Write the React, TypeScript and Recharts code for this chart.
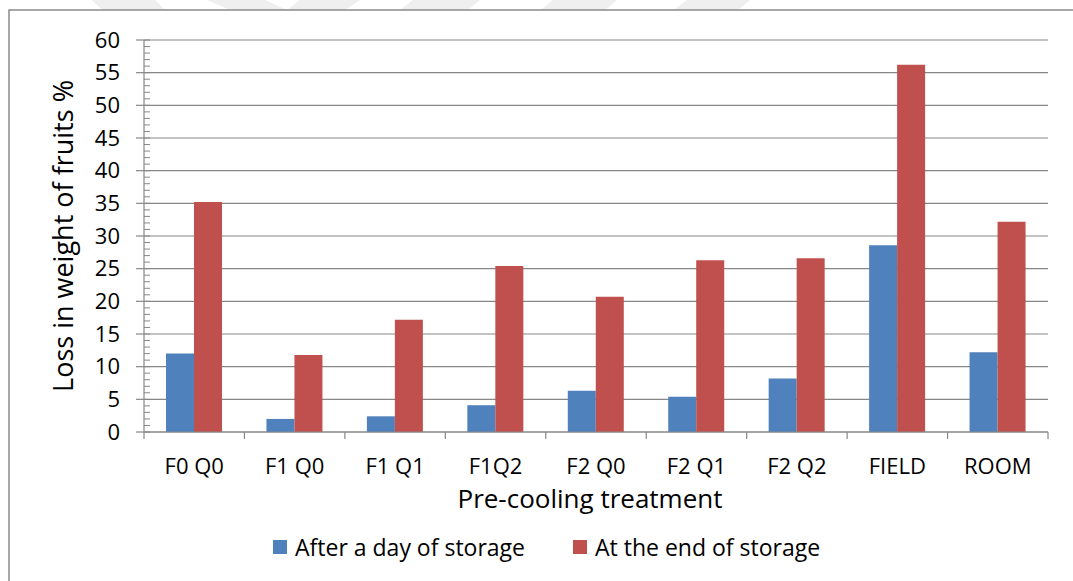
import React from 'react';
import { BarChart, Bar, XAxis, YAxis, CartesianGrid, Legend, Label } from 'recharts';

// Pre-cooling treatments on the category axis
const treatments = ['F0 Q0', 'F1 Q0', 'F1 Q1', 'F1Q2', 'F2 Q0', 'F2 Q1', 'F2 Q2', 'FIELD', 'ROOM'];

// Loss in weight of fruits (%)
const afterOneDay = [12.0, 2.0, 2.4, 4.1, 6.3, 5.4, 8.2, 28.6, 12.2];
const endOfStorage = [35.2, 11.8, 17.2, 25.4, 20.7, 26.3, 26.6, 56.2, 32.2];

const seriesNames = ['After a day of storage', 'At the end of storage'];

const yMajorTicks = [0, 5, 10, 15, 20, 25, 30, 35, 40, 45, 50, 55, 60];
const yMinorTicks = Array.from({ length: 61 }, (_, i) => i);

const rows = treatments.map((name, i) => ({
  name,
  day: afterOneDay[i],
  end: endOfStorage[i],
}));

const FONT = '"Open Sans", "Noto Sans", sans-serif';
const AXIS_GRAY = '#878787';
const BLUE = '#4F81BD';
const RED = '#C0504D';

// Y ticks: minor marks inside every unit, major marks outside with labels every 5
const YTick = (props: any) => {
  const { x, y, payload } = props;
  const v = Number(payload.value);
  const major = v % 5 === 0;
  return (
    <g>
      <line x1={x} x2={x + 6} y1={y} y2={y} stroke={AXIS_GRAY} strokeWidth={1} />
      {major && <line x1={x - 8} x2={x} y1={y} y2={y} stroke={AXIS_GRAY} strokeWidth={1.2} />}
      {major && (
        <text x={x - 24} y={y + 7.5} textAnchor="end" fontSize={22} fontFamily={FONT} fill="#000">
          {v}
        </text>
      )}
    </g>
  );
};

// X ticks: marks on category boundaries, labels centred under each category
const XTick = (props: any) => {
  const { x, y, payload, index, visibleTicksCount, width } = props;
  const half = typeof payload.offset === 'number' && payload.offset > 0 ? payload.offset : width / visibleTicksCount / 2;
  const last = index === visibleTicksCount - 1;
  return (
    <g>
      <line x1={x - half} x2={x - half} y1={y} y2={y + 7} stroke={AXIS_GRAY} strokeWidth={1.2} />
      {last && <line x1={x + half} x2={x + half} y1={y} y2={y + 7} stroke={AXIS_GRAY} strokeWidth={1.2} />}
      <text x={x} y={y + 42} textAnchor="middle" fontSize={22} fontFamily={FONT} fill="#000">
        {payload.value}
      </text>
    </g>
  );
};

const YTitle = (props: any) => {
  const vb = props.viewBox || { x: 0, y: 0, width: 0, height: 0 };
  const cx = vb.x + 73;
  const cy = vb.y + vb.height / 2;
  return (
    <text
      x={cx}
      y={cy}
      transform={`rotate(-90, ${cx}, ${cy})`}
      textAnchor="middle"
      fontSize={27}
      fontFamily={FONT}
      fill="#000"
    >
      Loss in weight of fruits %
    </text>
  );
};

const XTitle = (props: any) => {
  const vb = props.viewBox || { x: 0, y: 0, width: 0, height: 0 };
  return (
    <text
      x={vb.x + vb.width / 2 - 6}
      y={vb.y + 76}
      textAnchor="middle"
      fontSize={26}
      fontFamily={FONT}
      fill="#000"
    >
      Pre-cooling treatment
    </text>
  );
};

const LegendContent = (props: any) => {
  const items = props.payload || [];
  return (
    <div style={{ display: 'flex', alignItems: 'center', fontFamily: FONT, fontSize: 23, color: '#000', whiteSpace: 'nowrap' }}>
      {items.map((entry: any, i: number) => (
        <div key={i} style={{ display: 'flex', alignItems: 'center', marginRight: 48 }}>
          <span style={{ width: 14, height: 14, background: entry.color, display: 'inline-block', marginRight: 8 }} />
          <span style={{ lineHeight: '26px' }}>{entry.value}</span>
        </div>
      ))}
    </div>
  );
};

// Faint stripes printed along the page top
const stripes = [
  '92,0 155,0 165,10 102,10',
  '207,0 265,0 287,10 230,10',
  '300,0 360,0 345,10 287,10',
  '413,0 480,0 468,10 400,10',
  '553,0 617,0 605,10 541,10',
  '687,0 750,0 738,10 674,10',
];

export default function App() {
  return (
    <div style={{ position: 'absolute', left: 0, top: 0, width: 1073, height: 581, background: '#fff', overflow: 'hidden' }}>
      <svg width={1073} height={581} style={{ position: 'absolute', left: 0, top: 0 }}>
        {stripes.map((p, i) => (
          <polygon key={i} points={p} fill="#efefef" />
        ))}
        <rect x={9} y={10} width={1080} height={600} fill="none" stroke="#8a8a8a" strokeWidth={1.5} />
      </svg>
      <div style={{ position: 'absolute', left: 0, top: 0 }}>
        <BarChart
          width={1073}
          height={581}
          data={rows}
          margin={{ top: 40, right: 25, bottom: 119, left: 0 }}
          barCategoryGap={22}
          barGap={0}
        >
          <CartesianGrid vertical={false} horizontalValues={yMajorTicks} stroke={AXIS_GRAY} strokeWidth={1.2} />
          <XAxis
            dataKey="name"
            height={30}
            axisLine={{ stroke: AXIS_GRAY, strokeWidth: 1.2 }}
            tickLine={false}
            tickSize={0}
            tickMargin={0}
            interval={0}
            tick={XTick}
          >
            <Label content={XTitle} />
          </XAxis>
          <YAxis
            width={144}
            domain={[0, 60]}
            ticks={yMinorTicks}
            interval={0}
            tickSize={0}
            tickMargin={0}
            axisLine={{ stroke: AXIS_GRAY, strokeWidth: 1.2 }}
            tickLine={false}
            tick={YTick}
          >
            <Label content={YTitle} />
          </YAxis>
          <Bar dataKey="day" name={seriesNames[0]} fill={BLUE} isAnimationActive={false} />
          <Bar dataKey="end" name={seriesNames[1]} fill={RED} isAnimationActive={false} />
          <Legend
            layout="horizontal"
            verticalAlign="middle"
            align="center"
            content={LegendContent}
            wrapperStyle={{ position: 'absolute', left: 273, top: 534, width: 760, height: 28 }}
          />
        </BarChart>
      </div>
    </div>
  );
}
